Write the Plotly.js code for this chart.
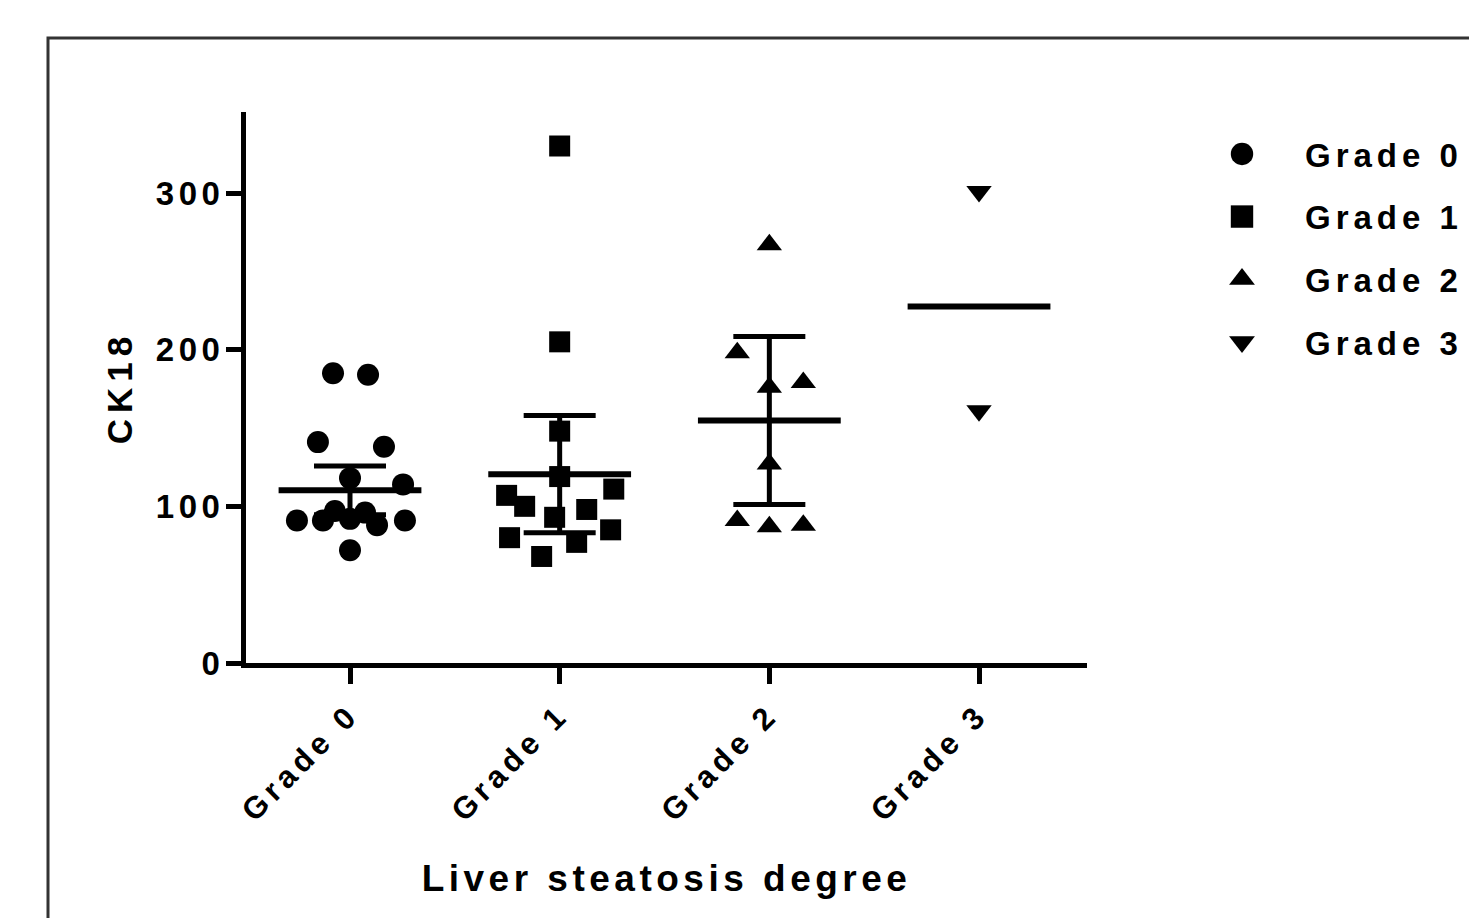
<!DOCTYPE html>
<html>
<head>
<meta charset="utf-8">
<script src="https://cdn.plot.ly/plotly-3.0.1.min.js"></script>
<style>
html, body { margin: 0; padding: 0; background: #fff; }
#chart { width: 1469px; height: 918px; }
.ytick text { letter-spacing: 4.5px; }
.xtick text { letter-spacing: 5px; }
.legendtext { letter-spacing: 5px; }
.g-xtitle text { letter-spacing: 4.5px; }
.g-ytitle text { letter-spacing: 6px; }
.legend .legendpoints path.scatterpts { transform: translate(63px, 0px) scale(1.4); }
</style>
</head>
<body>
<div id="chart"></div>
<script>
// ---- data ----
const categories = ['Grade 0', 'Grade 1', 'Grade 2', 'Grade 3'];

const grade0Values = [185, 184, 141, 138, 118, 114, 97, 96, 92, 91, 91, 88, 91, 72];
const grade1Values = [330, 205, 148, 119, 111, 107, 100, 98, 93, 85, 80, 77, 68];
const grade2Values = [267, 198, 179, 176, 127, 91, 87, 88];
const grade3Values = [301, 161];

const groupMeans = [110.2, 120.5, 154.8, 227.6];
const groupCIHalf = [15.5, 37.4, 53.6, null];

// horizontal scatter (jitter) of the dots, in category units
const grade0Jitter = [-0.081, 0.086, -0.153, 0.162, 0, 0.253, -0.072, 0.072, 0, -0.253, -0.129, 0.129, 0.262, 0];
const grade1Jitter = [0, 0, 0, 0, 0.258, -0.253, -0.167, 0.129, -0.024, 0.243, -0.239, 0.081, -0.086];
const grade2Jitter = [0, -0.153, 0.162, 0, 0, -0.153, 0, 0.162];
const grade3Jitter = [0, 0];

// ---- styling ----
const FONT = 'Liberation Sans, Arial, Helvetica, sans-serif';
const groupValues = [grade0Values, grade1Values, grade2Values, grade3Values];
const groupJitter = [grade0Jitter, grade1Jitter, grade2Jitter, grade3Jitter];
const symbols = ['circle', 'square', 'triangle-up', 'triangle-down'];
const markerSizes = [22, 21, 22, 22];

const traces = groupValues.map((vals, g) => ({
  type: 'scatter',
  mode: 'markers',
  name: categories[g],
  legendgroup: 'g' + g,
  x: vals.map((v, i) => g + groupJitter[g][i]),
  y: vals,
  marker: { symbol: symbols[g], size: markerSizes[g], color: '#000', line: { width: 0 } },
  hoverinfo: 'y+name',
  cliponaxis: false
}));

traces.push({
  type: 'scatter',
  mode: 'markers',
  name: 'Mean ± 95% CI',
  showlegend: false,
  x: categories.map((c, i) => i),
  y: groupMeans,
  marker: { symbol: 'line-ew', size: 102, color: '#000', line: { width: 6, color: '#000' } },
  error_y: {
    type: 'data',
    array: groupCIHalf.map(v => (v === null ? NaN : v)),
    visible: true,
    color: '#000',
    thickness: 5,
    width: 36
  },
  hoverinfo: 'y',
  cliponaxis: false
});

const plotL = 246, plotR = 1087, plotT = 112, plotB = 663;
const W = 1469, H = 918;
const pw = plotR - plotL, ph = plotB - plotT;

const layout = {
  width: W,
  height: H,
  paper_bgcolor: '#fff',
  plot_bgcolor: '#fff',
  margin: { l: plotL, r: W - plotR, t: plotT, b: H - plotB, pad: 0, autoexpand: false },
  font: { family: FONT, color: '#000', size: 31, weight: 'bold' },
  showlegend: true,
  legend: {
    x: (1179 - plotL) / pw,
    y: 1 - (126 - plotT) / ph,
    xanchor: 'left',
    yanchor: 'top',
    itemwidth: 116,
    tracegroupgap: 16.7,
    bgcolor: 'rgba(0,0,0,0)',
    font: { family: FONT, size: 33, color: '#000', weight: 'bold' }
  },
  xaxis: {
    range: [-0.496, 3.515],
    tickmode: 'array',
    tickvals: [0, 1, 2, 3],
    ticktext: categories,
    tickangle: -45,
    ticks: 'outside',
    ticklen: 16,
    tickwidth: 5,
    tickcolor: '#000',
    showline: true,
    linewidth: 5,
    linecolor: '#000',
    showgrid: false,
    zeroline: false,
    tickfont: { family: FONT, size: 31, color: '#000', weight: 'bold' },
    title: { text: 'Liver steatosis degree', standoff: 40, font: { family: FONT, size: 37, color: '#000', weight: 'bold' } },
    automargin: false,
    fixedrange: true
  },
  yaxis: {
    range: [0, 351.7],
    tickmode: 'array',
    tickvals: [0, 100, 200, 300],
    ticks: 'outside',
    ticklen: 15,
    tickwidth: 5,
    tickcolor: '#000',
    showline: true,
    linewidth: 5,
    linecolor: '#000',
    showgrid: false,
    zeroline: false,
    ticklabelstandoff: -5,
    tickfont: { family: FONT, size: 33, color: '#000', weight: 'bold' },
    title: { text: 'CK18', standoff: 14, font: { family: FONT, size: 35, color: '#000', weight: 'bold' } },
    automargin: false,
    fixedrange: true
  },
  shapes: [{
    type: 'rect',
    xref: 'paper', yref: 'paper',
    x0: (48 - plotL) / pw, x1: (W + 40 - plotL) / pw,
    y0: -(H + 40 - plotB) / ph, y1: 1 + (plotT - 38) / ph,
    line: { color: '#333', width: 3 },
    fillcolor: 'rgba(0,0,0,0)',
    layer: 'below'
  }]
};

Plotly.newPlot('chart', traces, layout, { displayModeBar: false, staticPlot: true });
</script>
</body>
</html>
